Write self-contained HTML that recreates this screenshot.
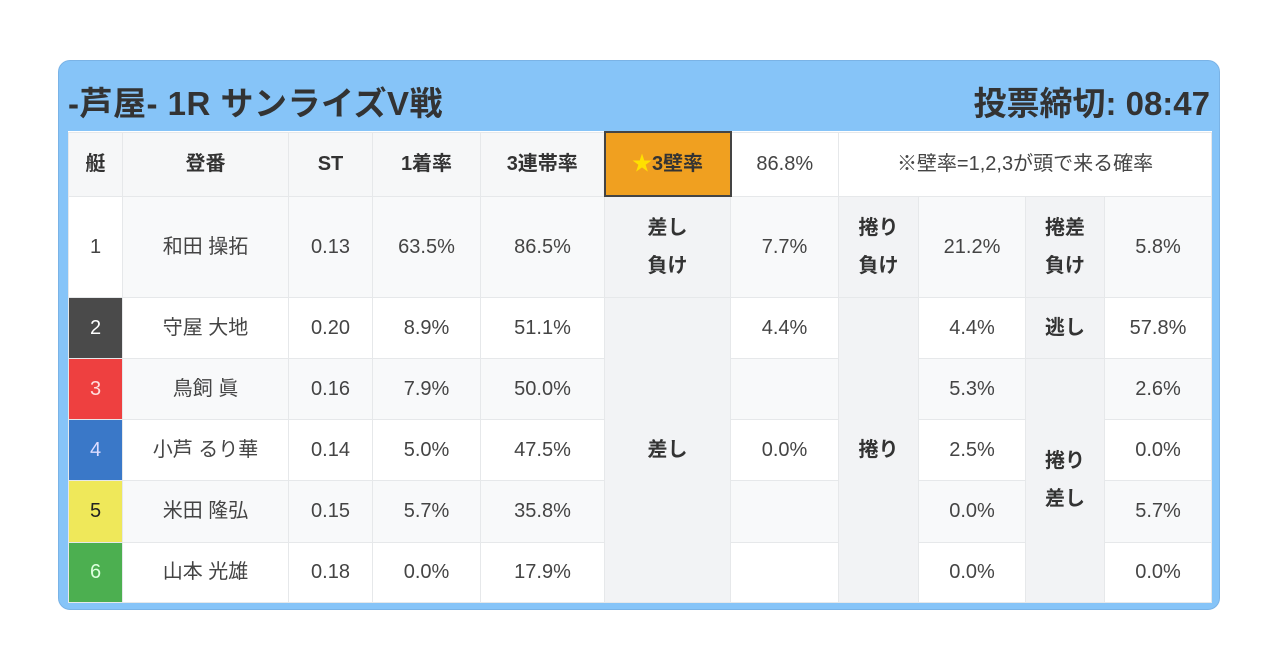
<!DOCTYPE html>
<html><head><meta charset="utf-8"><style>
body{margin:0;width:1280px;height:670px;background:#fff;font-family:"Liberation Sans","Noto Sans CJK JP",sans-serif;overflow:hidden;position:relative}
#box{position:absolute;left:58px;top:60px;width:1162px;height:550px;background:#86c4f8;border:1px solid #7ab3e6;border-radius:12px;box-sizing:border-box}
#title{position:absolute;left:68px;top:77px;font-size:33px;font-weight:bold;color:#333;letter-spacing:0.5px}
#deadline{position:absolute;right:70px;top:77px;font-size:33px;font-weight:bold;color:#333}
table{position:absolute;left:68px;top:131px;width:1143px;border-collapse:collapse;table-layout:fixed;background:#fff}
td{border:1px solid #e6e8ea;text-align:center;font-size:20px;color:#444;padding:0;line-height:38px}
tr.h td{background:#f6f7f8;font-weight:bold;color:#333;font-size:20px}
tr.o td{background:#f8f9fa}
td.lbl{background:#f2f3f5 !important;font-weight:bold;color:#333}
td.star{background:#f0a020 !important;border:2px solid #444;box-shadow:1px 2px 3px rgba(0,0,0,.4)}
td.note{background:#fff !important;font-weight:normal !important;color:#444 !important}
td.n1{background:#fff !important}
td.n2{background:#4a4a4a !important;color:#fff}
td.n3{background:#ee4040 !important;color:#fdd}
td.n4{background:#3a78c8 !important;color:#ddf}
td.n5{background:#efe85a !important;color:#222}
td.n6{background:#4caf50 !important;color:#dfd}
</style></head><body>
<div id="box"></div>
<div id="title">-芦屋- 1R サンライズV戦</div>
<div id="deadline">投票締切: 08:47</div>
<table>
<colgroup><col style="width:54px"><col style="width:166px"><col style="width:84px"><col style="width:108px"><col style="width:124px"><col style="width:126px"><col style="width:108px"><col style="width:80px"><col style="width:107px"><col style="width:79px"><col style="width:107px"></colgroup>
<tr class="h" style="height:64px">
<td>艇</td><td>登番</td><td>ST</td><td>1着率</td><td>3連帯率</td><td class="star"><span style="color:#ffe000">★</span>3壁率</td><td class="note">86.8%</td><td colspan="4" class="note">※壁率=1,2,3が頭で来る確率</td></tr>
<tr class="o" style="height:101px">
<td class="n1">1</td><td>和田 操拓</td><td>0.13</td><td>63.5%</td><td>86.5%</td><td class="lbl">差し<br>負け</td><td>7.7%</td><td class="lbl">捲り<br>負け</td><td>21.2%</td><td class="lbl">捲差<br>負け</td><td>5.8%</td></tr>
<tr style="height:61px">
<td class="n2">2</td><td>守屋 大地</td><td>0.20</td><td>8.9%</td><td>51.1%</td><td class="lbl" rowspan="5">差し</td><td>4.4%</td><td class="lbl" rowspan="5">捲り</td><td>4.4%</td><td class="lbl">逃し</td><td>57.8%</td></tr>
<tr class="o" style="height:61px">
<td class="n3">3</td><td>鳥飼 眞</td><td>0.16</td><td>7.9%</td><td>50.0%</td><td></td><td>5.3%</td><td class="lbl" rowspan="4">捲り<br>差し</td><td>2.6%</td></tr>
<tr style="height:61px">
<td class="n4">4</td><td>小芦 るり華</td><td>0.14</td><td>5.0%</td><td>47.5%</td><td>0.0%</td><td>2.5%</td><td>0.0%</td></tr>
<tr class="o" style="height:62px">
<td class="n5">5</td><td>米田 隆弘</td><td>0.15</td><td>5.7%</td><td>35.8%</td><td></td><td>0.0%</td><td>5.7%</td></tr>
<tr style="height:60px">
<td class="n6">6</td><td>山本 光雄</td><td>0.18</td><td>0.0%</td><td>17.9%</td><td></td><td>0.0%</td><td>0.0%</td></tr>
</table>
</body></html>
